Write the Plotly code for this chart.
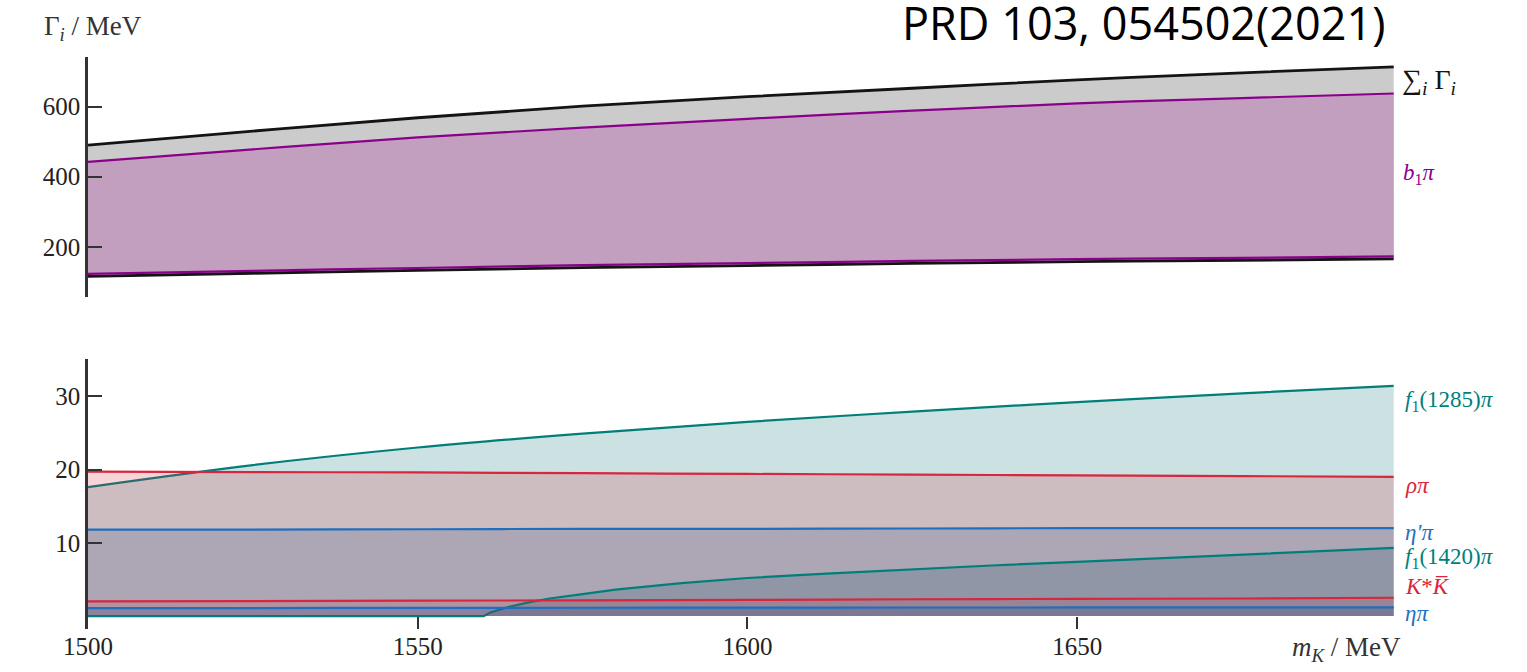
import plotly.graph_objects as go
from plotly.subplots import make_subplots

# Kaon mass grid (MeV)
mass = [1500, 1525, 1550, 1575, 1600, 1625, 1650, 1675, 1698]

# Upper panel: total width and b1 pi partial width bands (MeV)
sum_upper = [490, 530, 568, 601, 628, 652, 676, 696, 713]
sum_lower = [116, 125, 133, 141, 147, 153, 158, 162, 166]
b1pi_upper = [442, 478, 512, 540, 565, 588, 609, 624, 637]
b1pi_lower = [123, 132, 140, 148, 154, 160, 165, 169, 173]

# Lower panel: smaller partial widths (MeV)
f1_1285_pi = [17.6, 20.6, 23.0, 24.9, 26.5, 27.9, 29.2, 30.4, 31.4]
rho_pi = [19.7, 19.65, 19.6, 19.5, 19.4, 19.3, 19.2, 19.1, 19.0]
etap_pi = [11.8, 11.8, 11.85, 11.9, 11.9, 11.95, 12.0, 12.0, 12.0]
kstar_kbar = [2.0, 2.05, 2.1, 2.15, 2.2, 2.3, 2.35, 2.4, 2.5]
eta_pi = [1.1, 1.1, 1.12, 1.14, 1.15, 1.17, 1.18, 1.2, 1.2]

# f1(1420) pi opens near 1560 MeV
mass_f1_1420 = [1500, 1560, 1561, 1562, 1564, 1567, 1570, 1575, 1580, 1590, 1600,
                1612, 1625, 1637, 1650, 1662, 1675, 1687, 1698]
f1_1420_pi = [0, 0, 0.5, 0.8, 1.3, 1.9, 2.4, 3.0, 3.6, 4.5, 5.2,
              5.8, 6.4, 6.9, 7.4, 7.9, 8.4, 8.9, 9.3]

x_ticks = [1500, 1550, 1600, 1650]
top_ticks = [200, 400, 600]
bottom_ticks = [10, 20, 30]

W, H = 1527, 672
ML, MR, MT, MB = 88, 130, 57, 37
PW, PH = W - ML - MR, H - MT - MB


def px_x(p):
    return (p - ML) / PW


def px_y(p):
    return (H - MB - p) / PH


SERIF = "Liberation Serif"
BLACK = "#141414"
PURPLE = "#8b008b"
TEAL = "#007f7a"
RED = "#d7263d"
BLUE = "#1f6fc0"

fig = make_subplots(rows=2, cols=1, shared_xaxes=False, vertical_spacing=0.0)

# ---- upper panel ----
fig.add_trace(go.Scatter(x=mass, y=sum_lower, mode="lines",
                         line=dict(color=BLACK, width=2.8, shape="spline")), row=1, col=1)
fig.add_trace(go.Scatter(x=mass, y=sum_upper, mode="lines", fill="tonexty",
                         fillcolor="#cbcbcb",
                         line=dict(color=BLACK, width=2.8, shape="spline")), row=1, col=1)
fig.add_trace(go.Scatter(x=mass, y=b1pi_lower, mode="lines",
                         line=dict(color=PURPLE, width=2.2, shape="spline")), row=1, col=1)
fig.add_trace(go.Scatter(x=mass, y=b1pi_upper, mode="lines", fill="tonexty",
                         fillcolor="#c29fbe",
                         line=dict(color=PURPLE, width=2.2, shape="spline")), row=1, col=1)

# ---- lower panel ----
bands = [
    (mass, f1_1285_pi, TEAL, "rgba(0,110,110,0.20)", "spline"),
    (mass, rho_pi, RED, "rgba(210,40,60,0.20)", "spline"),
    (mass, etap_pi, BLUE, "rgba(40,80,140,0.20)", "spline"),
    (mass_f1_1420, f1_1420_pi, TEAL, "rgba(0,70,80,0.16)", "linear"),
    (mass, kstar_kbar, RED, "rgba(210,40,60,0.15)", "spline"),
    (mass, eta_pi, BLUE, "rgba(40,80,140,0.25)", "spline"),
]
for xs, ys, lc, fc, shp in bands:
    fig.add_trace(go.Scatter(x=xs, y=ys, mode="lines", fill="tozeroy", fillcolor=fc,
                             line=dict(color=lc, width=2.2, shape=shp)),
                  row=2, col=1)

tick_font = dict(family=SERIF, size=25, color="#222")
axis_common = dict(showgrid=False, zeroline=False)

fig.update_xaxes(range=[1500, 1698.5], visible=False, row=1, col=1, **axis_common)
fig.update_xaxes(range=[1500, 1698.5], tickvals=x_ticks, ticks="inside", ticklen=12,
                 tickwidth=2, tickcolor="#333", showline=False, tickfont=tick_font,
                 row=2, col=1, **axis_common)
fig.update_yaxes(range=[56, 741], tickvals=top_ticks, ticks="inside", ticklen=14,
                 tickwidth=2, tickcolor="#333", showline=True, linewidth=2.5,
                 linecolor="#333", tickfont=tick_font, domain=[px_y(300), 1.0],
                 row=1, col=1, **axis_common)
fig.update_yaxes(range=[-1.76, 35.1], tickvals=bottom_ticks, ticks="inside", ticklen=14,
                 tickwidth=2, tickcolor="#333", showline=True, linewidth=2.5,
                 linecolor="#333", tickfont=tick_font, domain=[0.0, px_y(362)],
                 row=2, col=1, **axis_common)


def label(text, px, py, size, color, family=SERIF, anchor="left"):
    return dict(text=text, x=px_x(px), y=px_y(py), xref="paper", yref="paper",
                xanchor=anchor, yanchor="middle", showarrow=False,
                font=dict(family=family, size=size, color=color))


annotations = [
    # axis titles
    label("Γ<sub><i>i</i></sub> / MeV", 42, 28, 27, "#333"),
    label("<i>m</i><sub><i>K</i></sub> / MeV", 1290, 655, 27, "#333"),
    # reference
    label("PRD 103, 054502(2021)", 1388, 22, 45, "#000", family="Open Sans", anchor="right"),
    # channel labels, upper panel
    label("∑<sub><i>i</i></sub> Γ<sub><i>i</i></sub>", 1400, 82, 28, BLACK),
    label("<i>b</i><sub>1</sub><i>π</i>", 1401, 175, 23, PURPLE),
    # channel labels, lower panel
    label("<i>f</i><sub>1</sub>(1285)<i>π</i>", 1403, 405, 23, TEAL),
    label("<i>ρπ</i>", 1403, 490, 23, RED),
    label("<i>η′π</i>", 1403, 537, 23, BLUE),
    label("<i>f</i><sub>1</sub>(1420)<i>π</i>", 1403, 563, 23, TEAL),
    label("<i>K</i>*<i>K̅</i>", 1403, 592, 23, RED),
    label("<i>ηπ</i>", 1403, 619, 23, BLUE),
]

fig.update_layout(
    width=W, height=H,
    margin=dict(l=ML, r=MR, t=MT, b=MB),
    plot_bgcolor="white", paper_bgcolor="white",
    showlegend=False,
    annotations=annotations,
)

fig.write_html("out.html")
